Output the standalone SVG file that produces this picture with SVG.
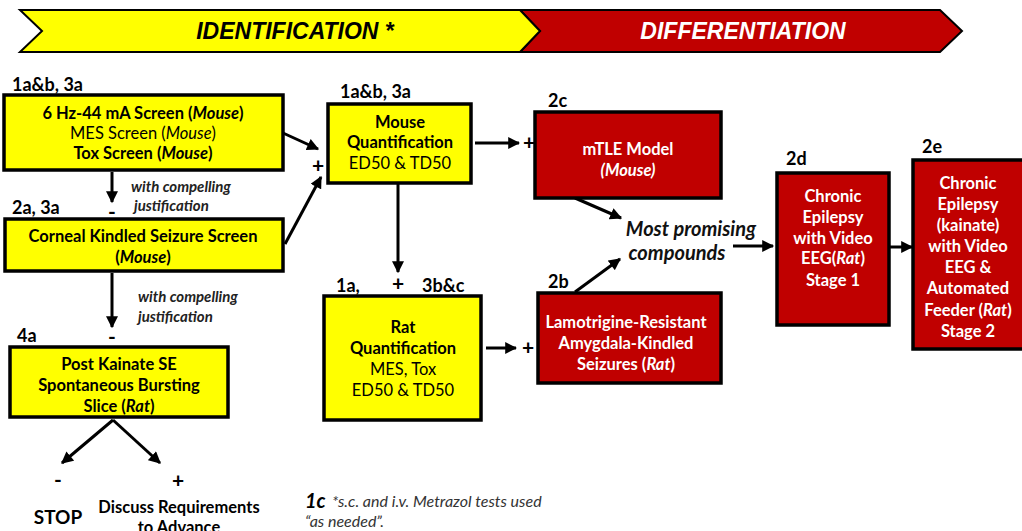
<svg xmlns="http://www.w3.org/2000/svg" width="1022" height="531" viewBox="0 0 1022 531">
<defs>
<marker id="ah" viewBox="0 0 10 10" refX="9" refY="5" markerWidth="4.2" markerHeight="4" orient="auto" markerUnits="strokeWidth">
<path d="M0,0 L10,5 L0,10 z" fill="#000"/>
</marker>
<style>
.t{font-family:Lato,"Open Sans","Liberation Sans",sans-serif;font-size:16.5px;text-anchor:middle;fill:#000}
.b{font-weight:bold}
.w{fill:#fff}
.lab{font-family:Lato,"Open Sans","Liberation Sans",sans-serif;font-size:18px;font-weight:bold;fill:#000}
.pm{font-family:Lato,"Open Sans","Liberation Sans",sans-serif;font-size:21px;font-weight:bold;text-anchor:middle;fill:#000}
.y{fill:#ffff00;stroke:#000;stroke-width:3.5}
.r{fill:#c00000;stroke:#000;stroke-width:3.5}
.c{stroke:#000;stroke-width:3;fill:none;marker-end:url(#ah)}
.note{font-family:Lato,"Open Sans","Liberation Sans",sans-serif;font-size:15px;font-weight:bold;font-style:italic;fill:#222}
.mp{font-family:Lato,"Open Sans","Liberation Sans",sans-serif;font-size:20px;font-weight:bold;font-style:italic;text-anchor:middle;fill:#111}
.ban{font-family:"Liberation Sans",Arial,sans-serif;font-size:23px;font-weight:bold;font-style:italic;text-anchor:middle}
</style>
</defs>
<rect width="1022" height="531" fill="#fff"/>
<g id="banner">
<polygon points="520,10 940,10 962,31 940,52 520,52 540,31" fill="#c00000" stroke="#000" stroke-width="2"/>
<polygon points="20,10 520,10 540,31 520,52 20,52 42,31" fill="#ffff00" stroke="#000" stroke-width="2"/>
<text class="ban" x="295" y="39" fill="#000">IDENTIFICATION *</text>
<text class="ban" x="743" y="39" fill="#fff">DIFFERENTIATION</text>
</g>
<g id="connectors">
<line class="c" x1="112" y1="172" x2="112" y2="202"/>
<line class="c" x1="112" y1="273" x2="112" y2="327"/>
<line class="c" x1="283" y1="133" x2="318" y2="149"/>
<line class="c" x1="285" y1="244" x2="321" y2="177"/>
<line class="c" x1="475" y1="143" x2="519" y2="143"/>
<line class="c" x1="398" y1="184" x2="398" y2="272"/>
<line class="c" x1="486" y1="348" x2="516" y2="348"/>
<line class="c" x1="575" y1="198" x2="621" y2="218"/>
<line class="c" x1="575" y1="292" x2="620" y2="259"/>
<line class="c" x1="733" y1="246" x2="773" y2="246"/>
<line class="c" x1="890" y1="247" x2="912" y2="247"/>
<line class="c" x1="113" y1="420" x2="62" y2="463"/>
<line class="c" x1="113" y1="420" x2="160" y2="463"/>
<text class="pm" x="112" y="219">-</text>
<text class="pm" x="112" y="344">-</text>
<text class="pm" x="318" y="173">+</text>
<text class="pm" x="529" y="150">+</text>
<text class="pm" x="398" y="291">+</text>
<text class="pm" x="528" y="355">+</text>
<text class="pm" x="58" y="487">-</text>
<text class="pm" x="178" y="488">+</text>
<text class="note" x="131" y="192">with compelling</text>
<text class="note" x="134" y="211">justification</text>
<text class="note" x="138" y="302">with compelling</text>
<text class="note" x="138" y="322">justification</text>
<text class="mp" x="691" y="236">Most promising</text>
<text class="mp" x="677" y="260">compounds</text>
</g>
<g id="nodeA">
<text class="lab" x="12" y="91">1a&amp;b, 3a</text>
<rect class="y" x="4" y="95" width="279" height="75"/>
<text class="t b" x="143" y="119">6 Hz-44 mA Screen (<tspan font-style="italic">Mouse</tspan>)</text>
<text class="t" x="143" y="139">MES Screen (<tspan font-style="italic">Mouse</tspan>)</text>
<text class="t b" x="143" y="159">Tox Screen (<tspan font-style="italic">Mouse</tspan>)</text>
</g>
<g id="nodeB">
<text class="lab" x="12" y="214">2a, 3a</text>
<rect class="y" x="5" y="219" width="278" height="52"/>
<text class="t b" x="143" y="242">Corneal Kindled Seizure Screen</text>
<text class="t b" x="143" y="263">(<tspan font-style="italic">Mouse</tspan>)</text>
</g>
<g id="nodeC">
<text class="lab" x="17" y="342">4a</text>
<rect class="y" x="10" y="347" width="218" height="70"/>
<text class="t b" x="119" y="370">Post Kainate SE</text>
<text class="t b" x="119" y="391">Spontaneous Bursting</text>
<text class="t b" x="119" y="412">Slice (<tspan font-style="italic">Rat</tspan>)</text>
</g>
<g id="stop">
<text x="58" y="524" font-family="Lato,'Open Sans','Liberation Sans',sans-serif" font-size="19" font-weight="bold" text-anchor="middle">STOP</text>
</g>
<g id="discuss">
<text class="t b" x="179" y="513">Discuss Requirements</text>
<text class="t b" x="179" y="533">to Advance</text>
</g>
<g id="note1c">
<text x="305" y="508" font-family="Lato,'Open Sans','Liberation Sans',sans-serif" font-size="20" font-weight="bold" font-style="italic">1c</text>
<text x="332" y="507" font-family="Lato,'Open Sans','Liberation Sans',sans-serif" font-size="16" font-style="italic" fill="#333">*s.c. and i.v. Metrazol tests used</text>
<text x="305" y="527" font-family="Lato,'Open Sans','Liberation Sans',sans-serif" font-size="16" font-style="italic" fill="#333">“as needed”.</text>
</g>
<g id="nodeD">
<text class="lab" x="340" y="98">1a&amp;b, 3a</text>
<rect class="y" x="328" y="104" width="143" height="79"/>
<text class="t b" x="400" y="128">Mouse</text>
<text class="t b" x="400" y="148">Quantification</text>
<text class="t" x="400" y="169">ED50 &amp; TD50</text>
</g>
<g id="nodeE">
<text class="lab" x="336" y="292">1a,</text>
<text class="lab" x="422" y="292">3b&amp;c</text>
<rect class="y" x="324" y="296" width="157" height="124"/>
<text class="t b" x="403" y="333">Rat</text>
<text class="t b" x="403" y="354">Quantification</text>
<text class="t" x="403" y="375">MES, Tox</text>
<text class="t" x="403" y="396">ED50 &amp; TD50</text>
</g>
<g id="nodeF">
<text class="lab" x="548" y="107">2c</text>
<rect class="r" x="535" y="112" width="186" height="86"/>
<text class="t b w" x="628" y="155">mTLE Model</text>
<text class="t b w" x="628" y="176" font-style="italic">(Mouse)</text>
</g>
<g id="nodeG">
<text class="lab" x="548" y="288">2b</text>
<rect class="r" x="538" y="293" width="183" height="90"/>
<text class="t b w" x="626" y="328">Lamotrigine-Resistant</text>
<text class="t b w" x="626" y="349">Amygdala-Kindled</text>
<text class="t b w" x="626" y="370">Seizures (<tspan font-style="italic">Rat</tspan>)</text>
</g>
<g id="nodeH">
<text class="lab" x="786" y="165">2d</text>
<rect class="r" x="777" y="173" width="112" height="152"/>
<text class="t b w" x="833" y="202">Chronic</text>
<text class="t b w" x="833" y="223">Epilepsy</text>
<text class="t b w" x="833" y="244">with Video</text>
<text class="t b w" x="833" y="264">EEG(<tspan font-style="italic">Rat</tspan>)</text>
<text class="t b w" x="833" y="286">Stage 1</text>
</g>
<g id="nodeI">
<text class="lab" x="922" y="153">2e</text>
<rect class="r" x="913" y="160" width="120" height="189"/>
<text class="t b w" x="968" y="189">Chronic</text>
<text class="t b w" x="968" y="210">Epilepsy</text>
<text class="t b w" x="968" y="231">(kainate)</text>
<text class="t b w" x="968" y="252">with Video</text>
<text class="t b w" x="968" y="273">EEG &amp;</text>
<text class="t b w" x="968" y="294">Automated</text>
<text class="t b w" x="968" y="316">Feeder (<tspan font-style="italic">Rat</tspan>)</text>
<text class="t b w" x="968" y="337">Stage 2</text>
</g>
</svg>
